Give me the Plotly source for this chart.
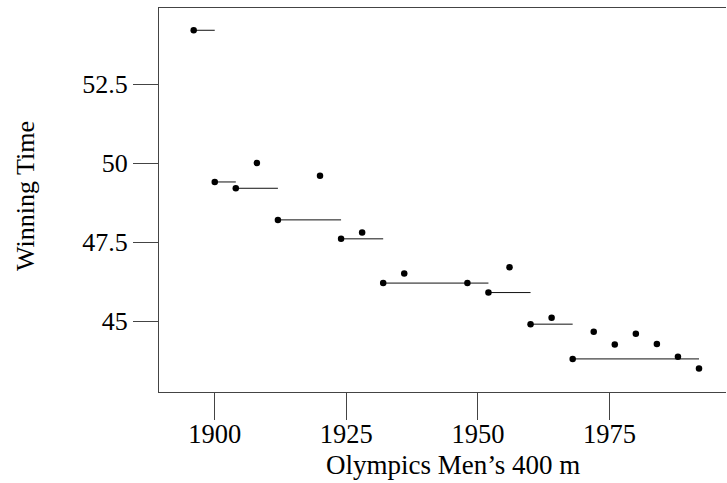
import plotly.graph_objects as go

# Olympic men's 400 m winning times (seconds)
years = [1896, 1900, 1904, 1908, 1912, 1920, 1924, 1928, 1932, 1936, 1948,
         1952, 1956, 1960, 1964, 1968, 1972, 1976, 1980, 1984, 1988, 1992]
times = [54.2, 49.4, 49.2, 50.0, 48.2, 49.6, 47.6, 47.8, 46.2, 46.5, 46.2,
         45.9, 46.7, 44.9, 45.1, 43.8, 44.66, 44.26, 44.60, 44.27, 43.87, 43.50]

x_ticks = [1900, 1925, 1950, 1975]
y_ticks = [45, 47.5, 50, 52.5]
y_tick_labels = ["45", "47.5", "50", "52.5"]

# Olympic record steps: each record holds until it is beaten
rec_years, rec_times = [], []
for yr, t in zip(years, times):
    if not rec_times or t < rec_times[-1]:
        rec_years.append(yr)
        rec_times.append(t)

seg_x, seg_y = [], []
for i in range(len(rec_years) - 1):
    seg_x += [rec_years[i], rec_years[i + 1], None]
    seg_y += [rec_times[i], rec_times[i], None]

FONT = "Liberation Serif, Times New Roman, serif"

fig = go.Figure()
fig.add_trace(go.Scatter(x=seg_x, y=seg_y, mode="lines",
                         line=dict(color="#111", width=1),
                         hoverinfo="skip", showlegend=False))
fig.add_trace(go.Scatter(x=years, y=times, mode="markers",
                         marker=dict(color="black", size=6.5),
                         showlegend=False))

W, H = 727, 483
L, R, T, B = 159, 1, 8, 91

fig.update_layout(
    width=W, height=H,
    margin=dict(l=L, r=R, t=T, b=B, pad=0),
    paper_bgcolor="white", plot_bgcolor="white",
    font=dict(family=FONT, size=26, color="black"),
    xaxis=dict(range=[1889.41, 1997.13], tickvals=x_ticks,
               ticks="outside", ticklen=27, tickwidth=1, tickcolor="#444",
               ticklabelstandoff=-9,
               showline=True, linecolor="#444", linewidth=1, mirror=True,
               showgrid=False, zeroline=False,
               tickfont=dict(family=FONT, size=26.5, color="black")),
    yaxis=dict(range=[42.753, 54.905], tickvals=y_ticks, ticktext=y_tick_labels,
               ticks="outside", ticklen=25, tickwidth=1, tickcolor="#444",
               showline=True, linecolor="#444", linewidth=1, mirror=False,
               showgrid=False, zeroline=False,
               tickfont=dict(family=FONT, size=26, color="black")),
    annotations=[
        dict(text="Olympics Men’s 400 m", xref="paper", yref="paper",
             x=(453 - L) / (W - L - R), y=-(465 - (H - B)) / (H - T - B),
             xanchor="center", yanchor="middle", showarrow=False,
             font=dict(family=FONT, size=27, color="black")),
        dict(text="Winning Time", xref="paper", yref="paper",
             x=-(L - 25) / (W - L - R), y=(H - B - 196) / (H - T - B),
             xanchor="center", yanchor="middle", textangle=-90, showarrow=False,
             font=dict(family=FONT, size=26, color="black")),
    ],
)

fig.write_html("out.html")
